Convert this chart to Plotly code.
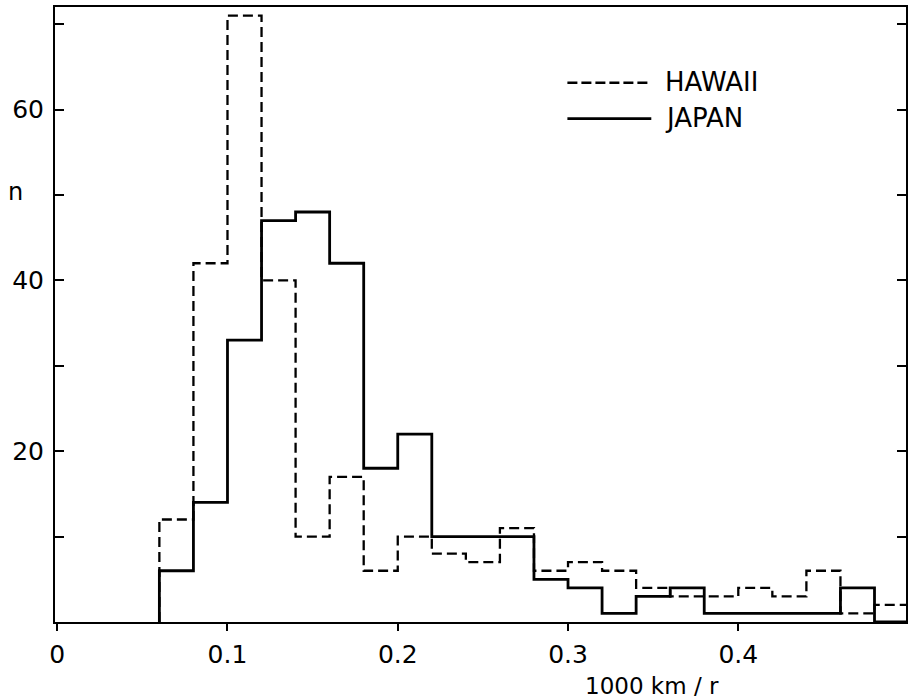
import plotly.graph_objects as go

# bin edges start / width (1000 km / r)
bin_start = 0.06
bin_width = 0.02
hawaii_counts = [12, 42, 71, 40, 10, 17, 6, 10, 8, 7, 11, 6, 7, 6, 4, 3, 3, 4, 3, 6, 1, 2]
japan_counts = [6, 14, 33, 47, 48, 42, 18, 22, 10, 10, 10, 5, 4, 1, 3, 4, 1, 1, 1, 1, 4, 0]

x_tickvals = [0, 0.1, 0.2, 0.3, 0.4]
x_ticktext = ["0", "0.1", "0.2", "0.3", "0.4"]
y_tickvals = [10, 20, 30, 40, 50, 60, 70]
y_ticktext = ["", "20", "", "40", "", "60", ""]

FONT = "DejaVu Sans"


def step_path(counts):
    n = len(counts)
    edges = [round(bin_start + i * bin_width, 4) for i in range(n + 1)]
    xs = [edges[0]] + edges[:n] + [edges[n]]
    ys = [0] + list(counts) + [0]
    return xs, ys


fig = go.Figure()
hx, hy = step_path(hawaii_counts)
jx, jy = step_path(japan_counts)
fig.add_trace(go.Scatter(x=hx, y=hy, mode="lines", line_shape="hv",
                         line=dict(color="black", width=2.3, dash="10px,5px"),
                         name="HAWAII", showlegend=False))
fig.add_trace(go.Scatter(x=jx, y=jy, mode="lines", line_shape="hv",
                         line=dict(color="black", width=2.8),
                         name="JAPAN", showlegend=False))

W, H = 913, 700
L, R, T, B = 55, 6, 5, 78
pw, ph = W - L - R, H - T - B


def px(x):
    return (x - L) / pw


def py(y):
    return 1 - (y - T) / ph


# legend drawn manually
fig.add_shape(type="line", xref="paper", yref="paper",
              x0=px(568), x1=px(652), y0=py(81), y1=py(81),
              line=dict(color="black", width=2.3, dash="10px,4px"))
fig.add_shape(type="line", xref="paper", yref="paper",
              x0=px(568), x1=px(652), y0=py(117), y1=py(117),
              line=dict(color="black", width=2.8))
fig.add_annotation(xref="paper", yref="paper", x=px(664), y=py(80), text="HAWAII",
                   showarrow=False, xanchor="left", yanchor="middle",
                   font=dict(family=FONT, size=26, color="black"))
fig.add_annotation(xref="paper", yref="paper", x=px(664), y=py(116), text="JAPAN",
                   showarrow=False, xanchor="left", yanchor="middle",
                   font=dict(family=FONT, size=26, color="black"))
# axis labels
fig.add_annotation(xref="paper", yref="paper", x=px(6), y=py(191), text="n",
                   showarrow=False, xanchor="left", yanchor="middle",
                   font=dict(family=FONT, size=24, color="black"))
fig.add_annotation(xref="paper", yref="paper", x=px(653), y=py(686), text="1000 km / r",
                   showarrow=False, xanchor="center", yanchor="middle",
                   font=dict(family=FONT, size=23, color="black"))

fig.update_layout(
    width=W, height=H,
    margin=dict(l=L, r=R, t=T, b=B, pad=0),
    plot_bgcolor="white", paper_bgcolor="white",
    font=dict(family=FONT, size=25, color="black"),
    showlegend=False,
)
fig.update_xaxes(range=[-0.0013, 0.4985], showgrid=False, zeroline=False,
                 showline=True, linecolor="black", linewidth=2, mirror=True,
                 tickmode="array", tickvals=x_tickvals, ticktext=x_ticktext,
                 ticks="outside", ticklen=7, tickwidth=1.5, tickcolor="black",
                 ticklabelstandoff=2)
fig.update_yaxes(range=[0, 72], showgrid=False, zeroline=False,
                 showline=True, linecolor="black", linewidth=2, mirror="ticks",
                 tickmode="array", tickvals=y_tickvals, ticktext=y_ticktext,
                 ticks="inside", ticklen=9, tickwidth=1.5, tickcolor="black",
                 ticklabelstandoff=4)

fig.write_html("out.html", config={"displayModeBar": False},
               post_script="document.body.style.margin='0';")
